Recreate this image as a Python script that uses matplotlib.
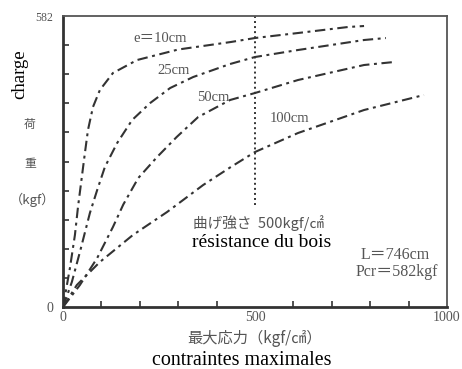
import matplotlib
matplotlib.use("Agg")
import matplotlib.pyplot as plt

plt.rcParams["font.family"] = ["Liberation Serif", "Noto Sans CJK JP", "DejaVu Sans"]

# --------------------------- données ---------------------------
# contrainte maximale (kgf/cm2) -> charge (kgf), une série par excentricité e
E10_X = [0, 18, 31, 39, 49, 57, 65, 78, 96, 130, 193, 300, 437, 500, 612, 742, 784]
E10_Y = [0, 78, 144, 200, 260, 308, 354, 400, 434, 468, 494, 515, 530, 538, 548, 560, 562]
E25_X = [0, 23, 44, 70, 89, 109, 141, 180, 227, 279, 339, 435, 500, 612, 784, 841]
E25_Y = [0, 50, 110, 188, 234, 280, 328, 374, 408, 438, 460, 486, 500, 514, 534, 538]
E50_X = [0, 44, 89, 130, 157, 196, 245, 296, 352, 435, 500, 612, 784, 862]
E50_Y = [0, 44, 98, 160, 205, 258, 300, 340, 380, 414, 428, 454, 484, 490]
E100_X = [0, 36, 96, 182, 271, 365, 437, 500, 612, 784, 940]
E100_Y = [0, 44, 90, 144, 190, 244, 280, 310, 348, 394, 424]

SERIES = [(E10_X, E10_Y), (E25_X, E25_Y), (E50_X, E50_Y), (E100_X, E100_Y)]
CURVE_LABELS = ["e＝10cm", "25cm", "50cm", "100cm"]

P_CR = 582          # charge critique (kgf)
SIGMA_B = 500       # résistance à la flexion (kgf/cm2)
X_MAX = 1000

INK = "#333333"
GREY_TXT = "#555555"

fig = plt.figure(figsize=(4.62, 3.69), dpi=100)
ax = fig.add_axes([0.1364, 0.168, 0.8311, 0.7886])

for xs, ys in SERIES:
    ax.plot(xs, ys, color=INK, lw=1.5, linestyle=(0, (5, 2.2, 1.4, 2.2)))

# limite de résistance du bois
ax.plot([SIGMA_B, SIGMA_B], [P_CR, 204], color=INK, lw=1.4, linestyle=(0, (1, 1.6)))

ax.set_xlim(0, X_MAX)
ax.set_ylim(0, P_CR)
ax.set_xticks([0, 500, 1000])
ax.set_xticklabels(["0", "500", "1000"], fontsize=10, color=GREY_TXT)
ax.set_xticks(range(0, 1001, 100), minor=True)
ax.set_yticks([0, P_CR])
ax.set_yticklabels(["0", "582"], fontsize=8.5, color=GREY_TXT)
ax.set_yticks([P_CR / 10 * i for i in range(11)], minor=True)
ax.tick_params(which="both", direction="in", length=4, width=1.2, color=INK)
ax.tick_params(axis="y", which="major", length=0, pad=7)
ax.tick_params(axis="x", which="major", length=0, pad=3)
ax.get_yticklabels()[0].set_fontsize(10)

for side in ["left", "bottom"]:
    ax.spines[side].set_linewidth(2.0)
    ax.spines[side].set_color(INK)
for side in ["top", "right"]:
    ax.spines[side].set_linewidth(1.3)
    ax.spines[side].set_color("#555555")

# étiquettes des courbes
lab_pos = [(253, 538), (289, 474), (391, 420), (589, 378)]
for (lx, ly), txt in zip(lab_pos, CURVE_LABELS):
    ax.text(lx, ly, txt, fontsize=10.5, color=GREY_TXT, ha="center", va="center")

ax.text(339, 168, "曲げ強さ  500kgf/㎠", fontsize=10.5, color=GREY_TXT,
        ha="left", va="center", family=["Noto Sans CJK JP", "DejaVu Sans"])
ax.text(336, 130, "résistance du bois", fontsize=14, color="black", ha="left", va="center")
ax.text(956, 104, "L＝746cm", fontsize=11.5, color=GREY_TXT, ha="right", va="center")
ax.text(976, 70, "Pcr＝582kgf", fontsize=11.5, color=GREY_TXT, ha="right", va="center")

# titres des axes
fig.text(0.043, 0.80, "charge", rotation=90, fontsize=13.5, color="black", ha="center", va="center")
fig.text(0.065, 0.664, "荷", fontsize=8.5, color=GREY_TXT, ha="center", va="center",
         family=["Noto Sans CJK JP"])
fig.text(0.065, 0.557, "重", fontsize=8.5, color=GREY_TXT, ha="center", va="center",
         family=["Noto Sans CJK JP"])
fig.text(0.07, 0.458, "（kgf）", fontsize=9.5, color=GREY_TXT, ha="center", va="center",
         family=["Noto Sans CJK JP"])
fig.text(0.552, 0.084, "最大応力（kgf/㎠）", fontsize=11, color=GREY_TXT, ha="center", va="center",
         family=["Noto Sans CJK JP", "DejaVu Sans"])
fig.text(0.524, 0.01, "contraintes maximales", fontsize=14.4, color="black",
         ha="center", va="baseline")

fig.savefig("out.png", dpi=100)
